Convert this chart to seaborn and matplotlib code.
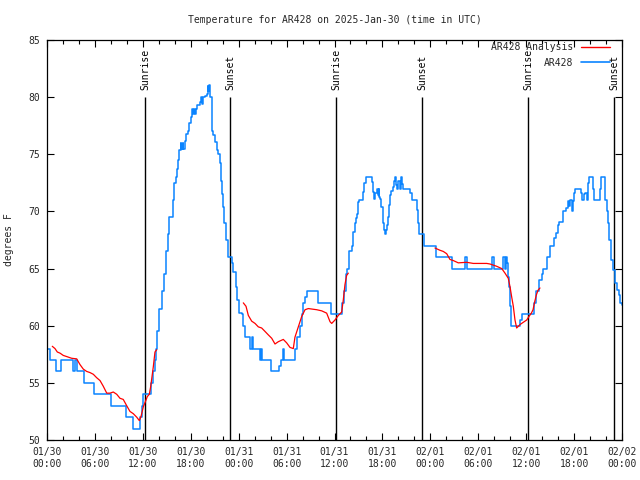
import numpy as np
import pandas as pd
import matplotlib
matplotlib.use("Agg")
import matplotlib.pyplot as plt
from matplotlib.lines import Line2D
import seaborn as sns

# ---- data (hours since 2025-01-30 00:00 UTC, degrees F) ----
obs_hours = [0.00, 0.38, 1.13, 1.72, 3.29, 3.51, 3.72, 4.67, 5.92, 7.98, 9.89, 10.81, 11.65, 11.86,
             12.06, 13.02, 13.31, 13.52, 13.65, 13.81, 14.02, 14.36, 14.65, 14.90, 15.11, 15.31,
             15.74, 15.94, 16.12, 16.24, 16.37, 16.57, 16.72, 16.84, 16.97, 17.09, 17.28, 17.41,
             17.62, 17.82, 17.99, 18.12, 18.24, 18.37, 18.49, 18.66, 18.82, 19.16, 19.28, 19.41,
             19.53, 19.78, 20.00, 20.12, 20.20, 20.29, 20.47, 20.60, 20.79, 21.04, 21.25, 21.45,
             21.66, 21.79, 21.91, 22.00, 22.20, 22.41, 22.70, 23.13, 23.33, 23.63, 23.75, 24.04,
             24.38, 24.58, 24.79, 25.42, 25.63, 25.76, 26.67, 26.80, 26.92, 28.05, 29.09, 29.30,
             29.51, 29.68, 31.05, 31.30, 31.68, 31.87, 32.02, 32.31, 32.52, 33.97, 35.56, 36.90,
             37.19, 37.44, 37.60, 37.85, 38.15, 38.35, 38.57, 38.69, 38.78, 38.98, 39.11, 39.53,
             39.69, 39.91, 40.73, 40.86, 40.99, 41.11, 41.28, 41.41, 41.53, 41.61, 41.74, 41.86,
             42.04, 42.11, 42.24, 42.36, 42.45, 42.54, 42.66, 42.79, 42.95, 43.08, 43.29, 43.49,
             43.58, 43.70, 43.86, 43.99, 44.20, 44.33, 44.45, 44.61, 45.45, 45.67, 46.37, 46.49,
             46.58, 47.24, 48.67, 50.75, 52.34, 52.53, 55.68, 55.91, 57.14, 57.29, 57.44, 57.64,
             57.76, 57.89, 57.98, 58.06, 59.23, 59.44, 61.02, 61.23, 61.61, 61.92, 62.15, 62.57,
             62.98, 63.52, 63.70, 64.02, 64.15, 64.57, 64.99, 65.28, 65.40, 65.49, 65.70, 65.83,
             65.99, 66.12, 66.83, 66.96, 67.28, 67.41, 67.58, 67.78, 67.91, 68.33, 68.53, 69.25,
             69.37, 69.87, 70.08, 70.21, 70.34, 70.41, 70.59, 70.84, 71.12, 71.34, 71.63, 71.76,
             72.00]
obs_temps = [58, 57, 56, 57, 56, 57, 56, 55, 54, 53, 52, 51, 52, 53,
             54, 55, 56, 57, 58, 59.5, 61.5, 63, 64.5, 66.5, 68, 69.5,
             71, 72.5, 73, 73.7, 74.5, 75.4, 76, 75.5, 76, 75.5, 76.2, 76.8,
             77, 77.7, 78.3, 79, 78.5, 79, 78.5, 79, 79.3, 79.6, 80, 79.4,
             80, 80.1, 80.3, 81, 80.5, 81.1, 80, 77, 76.7, 76.1, 75.4, 75,
             74.2, 72.7, 71.5, 70.4, 69, 67.5, 66, 65.5, 64.7, 63.4, 62.25, 61.1,
             61, 60, 59, 58, 59, 58, 57, 58, 57, 56, 56.5, 57,
             58, 57, 58, 59, 60, 61, 62, 62.5, 63, 62, 61, 62,
             63, 64.5, 65, 66.5, 67, 68.2, 69, 69.4, 69.8, 70.8, 71, 71.7,
             72.5, 73, 72.6, 71.7, 71.1, 71.6, 72, 71.4, 72, 71.3, 71.1, 70.4,
             69.9, 69, 68.4, 68, 68.4, 68.8, 69.5, 70.6, 71.4, 71.8, 72.1, 72.7,
             73, 72.3, 72, 72.7, 72, 73, 72.4, 72, 71.6, 71, 70.1, 69,
             68, 67, 66, 65, 66, 65, 66, 65, 66, 65, 66, 65.5,
             64.3, 63.4, 61.7, 60, 60.5, 61, 62, 63, 64, 64.5, 65, 66,
             67, 67.7, 68.1, 68.8, 69.1, 70, 70.3, 70.9, 70.5, 71, 70, 70.9,
             71.6, 72, 71.6, 71, 71.5, 71.6, 71, 72.5, 73, 72, 71, 72,
             73, 71, 70, 69, 68, 67.5, 65.75, 64.9, 63.7, 63.1, 62.7, 62,
             61.8]

ana1_hours = [0.66, 1.00, 1.29, 1.63, 2.04, 2.47, 3.09, 3.72, 4.13, 4.55, 4.97, 5.38, 5.80, 6.22,
              6.64, 7.05, 7.48, 7.89, 8.30, 8.73, 9.14, 9.55, 9.98, 10.39, 10.81, 11.23, 11.56,
              11.77, 12.06, 12.40, 12.56, 12.81, 12.99, 13.31, 13.52, 13.74]
ana1_temps = [58.2, 58.0, 57.7, 57.6, 57.4, 57.3, 57.15, 57.1, 56.6, 56.2, 56.0, 55.9, 55.75, 55.45,
              55.2, 54.7, 54.1, 54.1, 54.2, 54.0, 53.65, 53.55, 53.0, 52.5, 52.3, 52.0, 51.7,
              52.05, 52.9, 53.5, 53.8, 54.0, 54.7, 56.4, 57.7, 57.9]
ana2_hours = [24.58, 24.92, 25.21, 25.63, 26.05, 26.46, 26.88, 27.30, 27.71, 28.14, 28.55, 28.96,
              29.59, 30.01, 30.43, 30.84, 31.05, 31.47, 31.89, 32.31, 32.72, 33.77, 34.40, 35.02,
              35.44, 35.65, 36.06, 36.48, 36.90, 37.10, 37.31, 37.52, 37.73]
ana2_temps = [62.0, 61.7, 60.9, 60.4, 60.2, 59.9, 59.8, 59.5, 59.2, 58.9, 58.4, 58.6,
              58.8, 58.5, 58.1, 58.0, 59.0, 59.9, 60.8, 61.4, 61.5, 61.4, 61.3, 61.1,
              60.35, 60.2, 60.5, 60.9, 61.2, 62.25, 63.6, 64.4, 64.6]
ana3_hours = [48.58, 49.21, 49.62, 50.05, 50.46, 50.88, 51.50, 52.55, 53.38, 55.06, 55.47, 56.31,
              56.94, 57.35, 57.76, 57.98, 58.19, 58.39, 58.60, 58.81, 59.23, 59.64, 60.07, 60.39,
              60.65, 60.86, 61.07, 61.28, 61.48, 61.73]
ana3_temps = [66.8, 66.6, 66.5, 66.3, 65.8, 65.7, 65.5, 65.55, 65.45, 65.45, 65.4, 65.2,
              65.0, 64.6, 64.15, 63.4, 62.5, 61.7, 60.5, 59.8, 60.1, 60.3, 60.5, 60.85,
              61.1, 61.4, 62.1, 62.7, 63.1, 63.3]

sun_hours = [12.30, 22.96, 36.24, 47.00, 60.27, 71.04]
sun_labels = ["Sunrise", "Sunset", "Sunrise", "Sunset", "Sunrise", "Sunset"]
sun_line_top = 80.0
sun_label_y = 80.6

tick_hours = [0, 6, 12, 18, 24, 30, 36, 42, 48, 54, 60, 66, 72]
tick_labels = ["01/30\n00:00", "01/30\n06:00", "01/30\n12:00", "01/30\n18:00",
               "01/31\n00:00", "01/31\n06:00", "01/31\n12:00", "01/31\n18:00",
               "02/01\n00:00", "02/01\n06:00", "02/01\n12:00", "02/01\n18:00",
               "02/02\n00:00"]
y_ticks = [50, 55, 60, 65, 70, 75, 80, 85]

title = "Temperature for AR428 on 2025-Jan-30 (time in UTC)"
ylabel = "degrees F"
series_names = ["AR428 Analysis", "AR428"]
RED = "#ff0000"
BLUE = "#0a84ff"

# ---- build frames ----
obs = pd.DataFrame({"hour": obs_hours, "temp": obs_temps})
ana = pd.concat([
    pd.DataFrame({"hour": ana1_hours, "temp": ana1_temps, "seg": 1}),
    pd.DataFrame({"hour": ana2_hours, "temp": ana2_temps, "seg": 2}),
    pd.DataFrame({"hour": ana3_hours, "temp": ana3_temps, "seg": 3}),
], ignore_index=True)

sns.set_style("white")
plt.rcParams["font.family"] = ["DejaVu Sans Mono"]
fs = 7

fig = plt.figure(figsize=(6.4, 4.8), dpi=100)
ax = fig.add_axes([47 / 640, 40 / 480, 575 / 640, 400 / 480])

for h, lab in zip(sun_hours, sun_labels):
    ax.vlines(h, 50, sun_line_top, color="black", lw=1.0, zorder=1)
    ax.text(h, sun_label_y, lab, rotation=90, ha="center", va="bottom",
            fontsize=fs, color="black")

sns.lineplot(data=obs, x="hour", y="temp", ax=ax, color=BLUE, lw=1.1,
             drawstyle="steps-post", estimator=None, sort=False, zorder=2)
sns.lineplot(data=ana, x="hour", y="temp", units="seg", estimator=None, ax=ax,
             color=RED, lw=0.9, sort=False, zorder=3)

ax.set_xlim(0, 72)
ax.set_ylim(50, 85)
ax.set_xticks(tick_hours)
ax.set_xticklabels(tick_labels, fontsize=fs, linespacing=1.3)
ax.set_xticks(np.arange(0, 73, 2), minor=True)
ax.set_yticks(y_ticks)
ax.set_yticklabels([str(v) for v in y_ticks], fontsize=fs)
ax.tick_params(which="both", direction="in", top=True, right=True,
               bottom=True, left=True, color="black", width=0.8)
ax.tick_params(which="major", length=5, pad=5)
ax.tick_params(which="minor", length=3)
ax.set_xlabel("")
ax.set_ylabel(ylabel, fontsize=fs, labelpad=10)
ax.set_title(title, fontsize=fs, pad=12)
for sp in ax.spines.values():
    sp.set_visible(True)
    sp.set_color("black")
    sp.set_linewidth(0.9)

handles = [Line2D([], [], color=RED, lw=1.0), Line2D([], [], color=BLUE, lw=1.2)]
leg = ax.legend(handles, series_names, loc="upper right", frameon=False,
                bbox_to_anchor=(0.98, 0.997), markerfirst=False, fontsize=fs,
                handlelength=2.9, handletextpad=0.8, labelspacing=0.55,
                borderaxespad=0.0, borderpad=0.1)
for col in leg._legend_handle_box.get_children():
    col.align = "right"

fig.savefig("out.png", dpi=100)
